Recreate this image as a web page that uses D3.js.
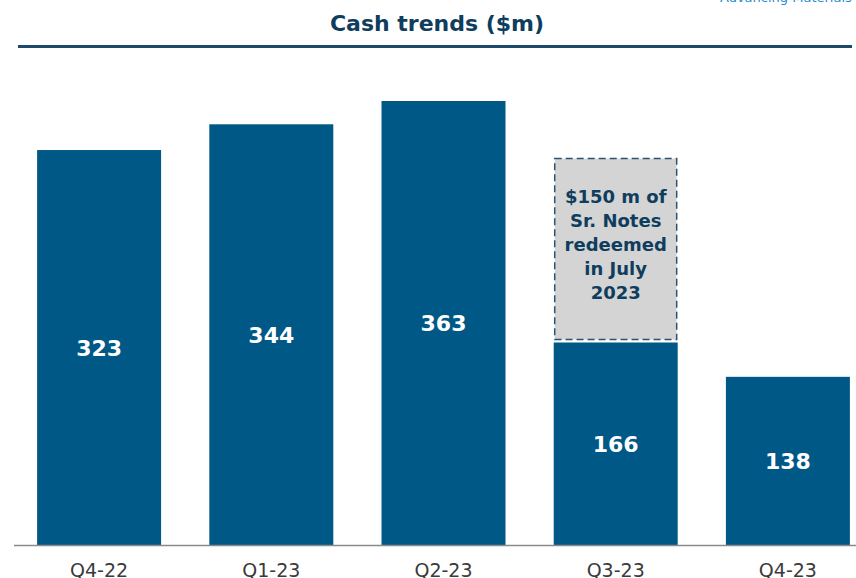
<!DOCTYPE html>
<html lang="en">
<head>
  <meta charset="UTF-8">
  <title>Cash trends</title>
  <script src="https://d3js.org/d3.v7.min.js"></script>
  <style>
    body { margin: 0; background: #fff; }
  </style>
</head>
<body>
  <div id="root"></div>
  <script>
    // data
    const quarters = ['Q4-22', 'Q1-23', 'Q2-23', 'Q3-23', 'Q4-23']
    const cash = [323, 344, 363, 166, 138]
    // redeemed notes shown on top of Q3-23
    const redeemed = [0, 0, 0, 150, 0]
    const noteLines = ['$150 m of', 'Sr. Notes', 'redeemed', 'in July', '2023']

    const width = 856
    const height = 578
    const navy = '#0f3d5e'
    const barColor = '#005887'
    const font = '"DejaVu Sans", Lato, sans-serif'

    const svg = d3.select('#root')
      .append('svg')
      .attr('width', width)
      .attr('height', height)
      .style('font-family', font)

    // cut-off header text top right
    svg.append('text')
      .attr('x', 720).attr('y', 2)
      .attr('font-size', 13)
      .attr('fill', '#2a8ccf')
      .text('Advancing Materials')

    // title + rule
    svg.append('text')
      .attr('x', 437).attr('y', 31)
      .attr('text-anchor', 'middle')
      .attr('font-size', 22)
      .attr('font-weight', 'bold')
      .attr('fill', navy)
      .text('Cash trends ($m)')

    svg.append('line')
      .attr('x1', 18).attr('x2', 852)
      .attr('y1', 46.5).attr('y2', 46.5)
      .attr('stroke', '#1d4a6b')
      .attr('stroke-width', 3)

    // scales
    const x = d3.scaleBand()
      .domain(quarters)
      .range([13, 874])
      .paddingInner(0.28)
      .paddingOuter(0.14)

    const y = d3.scaleLinear()
      .domain([0, 363])
      .range([546, 101])

    const rows = quarters.map((q, i) => ({ q, v: cash[i], r: redeemed[i] }))

    // main bars
    svg.append('g').selectAll('rect')
      .data(rows)
      .enter()
      .append('rect')
      .attr('x', d => x(d.q))
      .attr('y', d => y(d.v))
      .attr('width', x.bandwidth())
      .attr('height', d => y(0) - y(d.v))
      .attr('fill', barColor)

    // redeemed box (dashed, gray)
    const red = rows.filter(d => d.r > 0)
    svg.append('g').selectAll('rect')
      .data(red)
      .enter()
      .append('rect')
      .attr('x', d => x(d.q) + 1)
      .attr('y', d => y(d.v + d.r))
      .attr('width', x.bandwidth() - 2)
      .attr('height', d => y(d.v) - y(d.v + d.r) - 3)
      .attr('fill', '#d4d4d4')
      .attr('stroke', '#2b5272')
      .attr('stroke-width', 1.5)
      .attr('stroke-dasharray', '7,4')

    red.forEach(d => {
      const cx = x(d.q) + x.bandwidth() / 2
      const t = svg.append('text')
        .attr('text-anchor', 'middle')
        .attr('font-size', 18)
        .attr('font-weight', 'bold')
        .attr('fill', navy)
      noteLines.forEach((s, i) => {
        t.append('tspan')
          .attr('x', cx)
          .attr('y', 203 + i * 24)
          .text(s)
      })
    })

    // value labels
    svg.append('g').selectAll('text')
      .data(rows)
      .enter()
      .append('text')
      .attr('x', d => x(d.q) + x.bandwidth() / 2)
      .attr('y', d => (y(d.v) + y(0)) / 2)
      .attr('dy', '0.36em')
      .attr('text-anchor', 'middle')
      .attr('font-size', 22)
      .attr('font-weight', 'bold')
      .attr('fill', '#fff')
      .text(d => d.v)

    // x axis
    const xAxis = d3.axisBottom(x).tickSize(0).tickPadding(18)
    const xg = svg.append('g')
      .attr('transform', 'translate(0,545.5)')
      .call(xAxis)
    xg.select('.domain')
      .attr('d', 'M14,0H856')
      .attr('stroke', '#8a8a8a')
      .attr('stroke-width', 1.5)
    xg.selectAll('.tick text')
      .attr('font-size', 19)
      .attr('font-family', font)
      .attr('fill', '#3a3a3a')
  </script>
</body>
</html>
